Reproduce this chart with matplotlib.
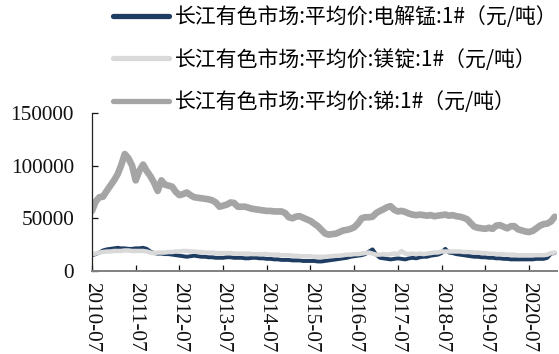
import numpy as np
import pandas as pd
import matplotlib
matplotlib.use("Agg")
import matplotlib.pyplot as plt
import matplotlib.dates as mdates

# monthly averages, 2010-07 .. 2021-02 (yuan/ton)
start_month = "2010-07-01"

manganese = [
    15000, 16000, 17500, 19500, 20500, 21000, 21500, 22000, 21500, 21500, 21000, 21000,
    21500, 21500, 22000, 21000, 18500, 17000, 16500, 16500, 16000, 16000, 15500, 15000,
    14500, 14000, 13500, 14000, 14500, 14000, 13500, 13500, 13000, 13000, 12500, 12500,
    12500, 13000, 13000, 12500, 12500, 12500, 12000, 12000, 12500, 12500, 12000, 12000,
    11500, 11500, 11000, 11000, 10500, 10500, 10500, 10000, 10000, 10000, 9500, 9500,
    9500, 9500, 9000, 9000, 9500, 10000, 10500, 11000, 11500, 12000, 12500, 13500,
    14000, 14500, 15000, 16000, 18500, 20500, 15500, 12500, 12000, 11500, 11000, 11500,
    12000, 11500, 11000, 12000, 12500, 12000, 13000, 13500, 13500, 14500, 15000, 15500,
    17000, 21000, 17500, 17000, 16000, 15500, 15000, 14500, 14000, 13500, 13500, 13000,
    13000, 12500, 12500, 12000, 12000, 11500, 11500, 11000, 11000, 11000, 11000, 11000,
    11000, 11000, 11500, 11500, 11500, 12500, 16500, 17000,
]

magnesium = [
    16000, 16500, 17500, 18000, 18500, 18500, 19000, 19000, 19000, 19500, 19500, 19000,
    19000, 19000, 19000, 18500, 17500, 17000, 17500, 17500, 17500, 18000, 18000, 18500,
    18500, 19000, 19000, 18500, 18500, 18000, 18000, 17500, 17500, 17500, 17000, 17000,
    17000, 17000, 17000, 16500, 16500, 16500, 16500, 16500, 16000, 16000, 16000, 16000,
    16000, 15500, 15500, 15500, 15000, 15000, 15000, 14500, 14500, 14000, 14000, 14000,
    14000, 13500, 13500, 13500, 13500, 14000, 14000, 14500, 14500, 15000, 15500, 15500,
    16000, 16000, 16500, 17000, 17500, 16500, 15500, 15500, 16000, 15500, 16000, 16500,
    16000, 19000, 16500, 16000, 16500, 16000, 16500, 16000, 16500, 17000, 17500, 17500,
    18500, 18500, 18500, 18500, 18500, 18500, 18000, 18000, 18000, 17500, 17500, 17000,
    17000, 16500, 16500, 16000, 16000, 16000, 15500, 15500, 15500, 15000, 15000, 15000,
    15000, 15000, 15000, 15000, 15000, 15500, 17000, 17500,
]

antimony = [
    57000, 66000, 70000, 70500, 76000, 81000, 86000, 92000, 100000, 111000, 107000, 100000,
    86000, 95000, 101000, 95000, 90000, 84000, 76000, 86000, 82000, 81000, 80000, 75000,
    72000, 73000, 74500, 72000, 70000, 69500, 69000, 68500, 68000, 67000, 65000, 61000,
    62000, 63000, 65000, 64500, 61000, 61000, 61000, 60000, 59000, 58500, 58000, 57500,
    57000, 57000, 56500, 56500, 56500, 55000, 51000, 50000, 51500, 52000, 50500, 49000,
    47500, 45000, 42500, 39000, 35500, 34500, 35000, 35500, 37000, 38500, 39000, 40000,
    41500, 45000, 50000, 51000, 51000, 51500, 55000, 57000, 58500, 60500, 61500, 58000,
    56500, 57000, 56000, 54500, 53500, 53000, 53500, 53000, 52500, 53000, 52000, 52500,
    53000, 53500, 52500, 53000, 52000, 51500, 50500, 49000, 45500, 42000, 41000, 40500,
    40000, 41000, 40000, 43000, 43500, 42000, 40500, 42500, 42500, 39500, 38500, 37500,
    37000, 38000, 40500, 43000, 44500, 45000, 47000, 51500,
]

labels = [
    "长江有色市场:平均价:电解锰:1#（元/吨）",
    "长江有色市场:平均价:镁锭:1#（元/吨）",
    "长江有色市场:平均价:锑:1#（元/吨）",
]
colors = ["#1f3d63", "#d9d9d9", "#a5a5a5"]
widths = [2.8, 3.2, 4.8]

yticks = [0, 50000, 100000, 150000]

dates = pd.date_range(start_month, periods=len(antimony), freq="MS")

plt.rcParams["font.family"] = ["Liberation Serif", "DejaVu Serif"]

fig = plt.figure(figsize=(5.59, 3.54), dpi=100)
ax = fig.add_axes([0.1646, 0.2345, 0.8318, 0.4465])

lines = []
for series, c, lw, lab in zip([manganese, magnesium, antimony], colors, widths, labels):
    ln, = ax.plot(dates, series, color=c, lw=lw, label=lab, solid_capstyle="round")
    lines.append(ln)

ax.set_ylim(0, 150000)
ax.set_yticks(yticks)
ax.set_xlim(pd.Timestamp("2010-07-01"), pd.Timestamp("2021-02-20"))
ax.xaxis.set_major_locator(mdates.MonthLocator(bymonth=7))
ax.xaxis.set_major_formatter(mdates.DateFormatter("%Y-%m"))

for s in ["top", "right"]:
    ax.spines[s].set_visible(False)
ax.spines["left"].set_color("#222222")
ax.spines["left"].set_linewidth(0.9)
ax.spines["bottom"].set_color("#808080")
ax.spines["bottom"].set_linewidth(1.4)

ax.tick_params(axis="y", direction="in", length=4, width=0.9, pad=13,
               labelsize=15.3, colors="#111111")
ax.tick_params(axis="x", direction="in", length=4.5, width=0.9, pad=8,
               labelsize=15.3, labelrotation=270, colors="#111111")
for t in ax.get_xticklabels():
    t.set_va("top")
    t.set_ha("center")

leg = fig.legend(handles=lines, loc="upper left", bbox_to_anchor=(0.191, 1.0),
                 frameon=False, handlelength=2.7, handletextpad=0.25,
                 labelspacing=0.98, borderaxespad=0.0, borderpad=0.3,
                 prop={"family": ["Noto Sans CJK SC", "DejaVu Sans"], "size": 15})
for h in leg.get_lines():
    h.set_linewidth(3.8)

fig.savefig("out.png", dpi=100)
